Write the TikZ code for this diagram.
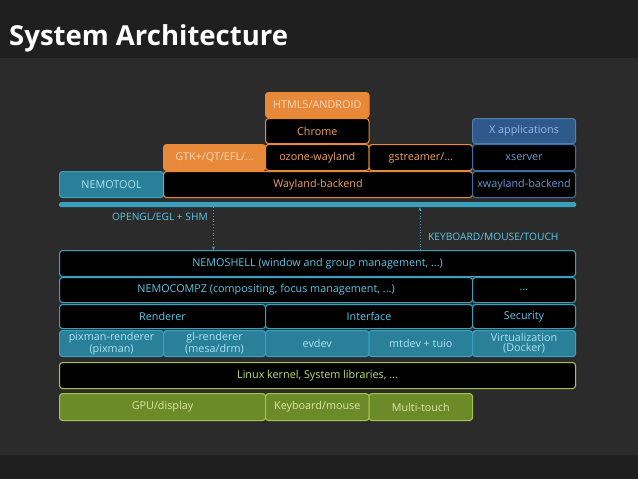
\documentclass[tikz,border=0pt]{standalone}
\usepackage{fontspec}
\setmainfont{Open Sans}
\usetikzlibrary{arrows.meta}
\definecolor{bg}{HTML}{2B2B2B}
\definecolor{bgd}{HTML}{1F1F1F}
\definecolor{org}{HTML}{E8893A}
\definecolor{orgt}{HTML}{F2A35E}
\definecolor{orgl}{HTML}{F8D8B8}
\definecolor{teal}{HTML}{3AA0C0}
\definecolor{tealf}{HTML}{2A7F99}
\definecolor{tealt}{HTML}{5CC8E8}
\definecolor{teall}{HTML}{A8E4F4}
\definecolor{xb}{HTML}{3F6FA5}
\definecolor{xf}{HTML}{2D5A8A}
\definecolor{xt}{HTML}{6A9AD8}
\definecolor{grn}{HTML}{A8C050}
\definecolor{grnf}{HTML}{6B8A28}
\definecolor{grnt}{HTML}{C8E070}
\definecolor{grnl}{HTML}{D8E8A0}
\tikzset{
 box/.style={rounded corners=3pt,line width=1.1pt,anchor=north west,inner sep=0pt,align=center,font=\fontsize{10.8}{10.2}\selectfont},
 ob/.style={box,draw=org,fill=org,text=orgl},
 ok/.style={box,draw=org,fill=black,text=orgt},
 tb/.style={box,draw=teal,fill=tealf,text=teall},
 tk/.style={box,draw=teal,fill=black,text=tealt},
 xbx/.style={box,draw=xb!90!white,fill=xf,text=xt!70!white},
 xk/.style={box,draw=xb,fill=black,text=xt},
 gb/.style={box,draw=grn,fill=grnf,text=grnl},
 gk/.style={box,draw=grn,fill=black,text=grnt},
 lbl/.style={text=tealt,font=\fontsize{10.2}{10}\selectfont,inner sep=0pt},
 dar/.style={teal,dotted,line width=0.8pt},
}
\newcommand\bx[7]{\node[#2,minimum width={(#5-#3)*1pt},minimum height={(#6-#4)*1pt}] (#1) at (#3,#4) {#7};}
\begin{document}
\begin{tikzpicture}[x=1pt,y=-1pt]
\fill[bgd] (0,0) rectangle (638,479);
\fill[bg] (0,58) rectangle (638,455);
\node[anchor=west,text=white,font=\bfseries\fontsize{27.5}{28}\selectfont,inner sep=0pt] (title) at (9,38) {System Architecture};
\bx{html}{ob}{265}{92}{368.5}{117}{HTML5/ANDROID}
\bx{chrome}{ok}{265}{118}{368.5}{143}{Chrome}
\bx{xapp}{xbx}{472}{118}{575}{143}{X applications}
\bx{gtk}{ob}{163}{144}{265}{170}{GTK+/QT/EFL/...}
\bx{ozone}{ok}{265}{144}{368.5}{170}{ozone-wayland}
\bx{gst}{ok}{368.5}{144}{472}{170}{gstreamer/...}
\bx{xserver}{xk}{472}{144}{575}{170}{xserver}
\bx{nemotool}{tb}{59}{171}{163}{197}{NEMOTOOL}
\bx{wayland}{ok}{163}{171}{472}{197}{Wayland-backend}
\bx{xwb}{xk}{472}{171}{575}{197}{xwayland-backend}
\node[fill=teal,rounded corners=1.5pt,minimum width=517pt,minimum height=5pt,inner sep=0pt,anchor=north west] (bar) at (59,202) {};
\bx{shell}{tk}{59}{250}{575}{276}{NEMOSHELL (window and group management, ...)}
\bx{compz}{tk}{59}{277}{472}{302}{NEMOCOMPZ (compositing, focus management, ...)}
\bx{dots}{tk}{472}{277}{575}{302}{...}
\bx{rend}{tk}{59}{304}{265}{328}{Renderer}
\bx{intf}{tk}{265}{304}{472}{328}{Interface}
\bx{sec}{tk}{472}{304}{575}{328}{Security}
\bx{pix}{tb}{59}{330}{163}{356}{pixman-renderer\\(pixman)}
\bx{gl}{tb}{163}{330}{265}{356}{gl-renderer\\(mesa/drm)}
\bx{evdev}{tb}{265}{330}{368.5}{356}{evdev}
\bx{mtdev}{tb}{368.5}{330}{472}{356}{mtdev + tuio}
\bx{virt}{tb}{472}{330}{575}{356}{Virtualization\\(Docker)}
\bx{linux}{gk}{59}{362}{575}{388}{Linux kernel, System libraries, ...}
\bx{gpu}{gb}{59}{393}{265}{420}{GPU/display}
\bx{kbd}{gb}{265}{393}{368.5}{420}{Keyboard/mouse}
\bx{touch}{gb}{368.5}{393}{472}{420}{Multi-touch}
\coordinate (a1) at (213.5,0);
\coordinate (a2) at (420,0);
\draw[dar,-{Stealth[length=3.5pt,width=3pt]}] (bar.south -| a1) -- (shell.north -| a1);
\draw[dar,-{Stealth[length=3.5pt,width=3pt]}] (shell.north -| a2) -- (bar.south -| a2);
\node[lbl,anchor=east] (l1) at (208,217) {OPENGL/EGL + SHM};
\node[lbl,anchor=west] (l2) at (428,237) {KEYBOARD/MOUSE/TOUCH};
\end{tikzpicture}
\end{document}
